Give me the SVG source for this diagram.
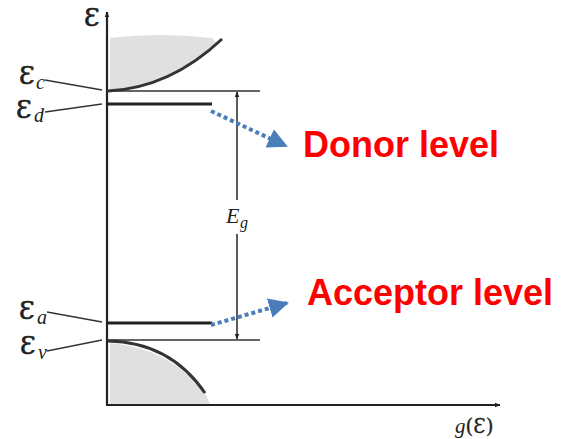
<svg xmlns="http://www.w3.org/2000/svg" width="561" height="439" viewBox="0 0 561 439">
<style>
.ax{stroke:#222;stroke-width:2.2;fill:none}
.lv{stroke:#333;stroke-width:1.6;fill:none}
.imp{stroke:#222;stroke-width:3;fill:none}
.curve{stroke:#333;stroke-width:3;fill:none}
.lead{stroke:#333;stroke-width:1.4;fill:none}
.shade{fill:#e0e0e0;stroke:none}
.sym{font-family:"DejaVu Serif","Liberation Serif",serif;font-size:25px;fill:#222;stroke:#222;stroke-width:0.7}
.sub{font-family:"Liberation Serif",serif;font-style:italic;font-size:20px;fill:#222}
.lbl{font-family:"Liberation Sans",Arial,sans-serif;font-weight:bold;font-size:36px;fill:#ff0000}
.dot{stroke:#4a7ebb;stroke-width:4;stroke-dasharray:4 3;fill:none}
</style>
<defs>
<marker id="blue" viewBox="0 0 10 10" refX="9" refY="5" markerWidth="5" markerHeight="5" orient="auto" markerUnits="strokeWidth">
<path d="M0,0 L10,5 L0,10 z" fill="#4a7ebb"/>
</marker>
<marker id="blk" viewBox="0 0 10 10" refX="9" refY="5" markerWidth="6" markerHeight="6" orient="auto" markerUnits="userSpaceOnUse">
<path d="M0,1 L10,5 L0,9 z" fill="#222"/>
</marker>
</defs>
<g id="bands">
<path class="shade" d="M110,38 Q160,32 212,38 L218,44 Q170,88 110,90 z"/>
<path class="shade" d="M110,343 Q170,348 205,393 L210,404 L110,404 z"/>
<path class="curve" d="M108,91 Q170,88 222,39"/>
<path class="curve" d="M108,341 Q170,342 205,393"/>
</g>
<g id="axes">
<line class="ax" x1="107" y1="405" x2="107" y2="12" marker-end="url(#blk)"/>
<line class="ax" x1="106" y1="405" x2="500" y2="405" marker-end="url(#blk)"/>
<text class="sym" x="84" y="26">Ɛ</text>
<text x="455" y="433"><tspan class="sub" style="font-size:21px">g</tspan><tspan class="sym" style="font-size:20px;stroke-width:0.3">(Ɛ)</tspan></text>
</g>
<g id="Ec">
<line class="lv" x1="107" y1="91" x2="260" y2="91"/>
<line class="lead" x1="45" y1="80" x2="102" y2="90"/>
<text class="sym" x="19" y="84">Ɛ</text><text class="sub" x="36" y="89">c</text>
</g>
<g id="Ed">
<line class="imp" x1="107" y1="104" x2="212" y2="104"/>
<line class="lead" x1="45" y1="112" x2="102" y2="104"/>
<text class="sym" x="16" y="118">Ɛ</text><text class="sub" x="34" y="122">d</text>
</g>
<g id="Ea">
<line class="imp" x1="107" y1="323" x2="212" y2="323"/>
<line class="lead" x1="47" y1="312" x2="102" y2="322"/>
<text class="sym" x="19" y="319">Ɛ</text><text class="sub" x="37" y="324">a</text>
</g>
<g id="Ev">
<line class="lv" x1="107" y1="340" x2="260" y2="340"/>
<line class="lead" x1="47" y1="351" x2="102" y2="340"/>
<text class="sym" x="20" y="354">Ɛ</text><text class="sub" x="38" y="359">v</text>
</g>
<g id="Eg">
<line class="lv" x1="237" y1="200" x2="237" y2="92" marker-end="url(#blk)"/>
<line class="lv" x1="237" y1="234" x2="237" y2="339" marker-end="url(#blk)"/>
<text class="sub" style="font-size:22px" x="226" y="223">E</text><text class="sub" style="font-size:16px" x="240" y="228">g</text>
</g>
<g id="connectors">
<line class="dot" x1="211" y1="111" x2="286" y2="146" marker-end="url(#blue)"/>
<line class="dot" x1="211" y1="325" x2="287" y2="303" marker-end="url(#blue)"/>
</g>
<g id="donor-label"><text class="lbl" x="303" y="157">Donor level</text></g>
<g id="acceptor-label"><text class="lbl" x="307" y="305">Acceptor level</text></g>
</svg>
